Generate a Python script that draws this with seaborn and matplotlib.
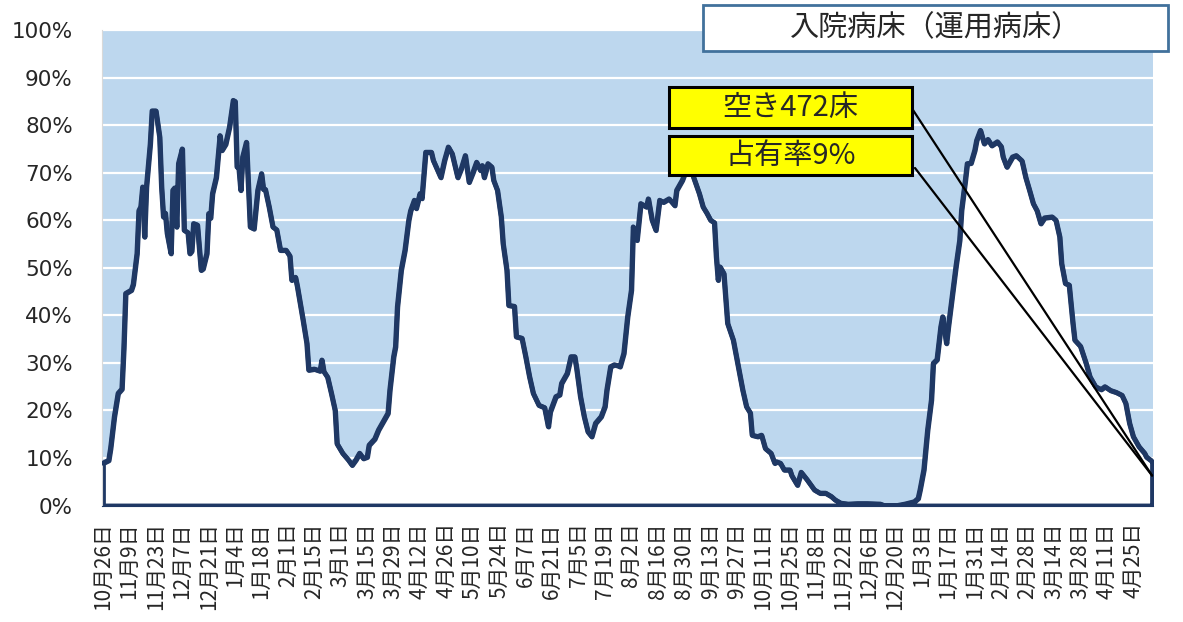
import matplotlib
matplotlib.use("Agg")
import matplotlib.pyplot as plt
import matplotlib.patches as mpatches
import seaborn as sns

# day offset from 10/26, occupancy (%)
days = [0, 3, 4, 6, 8, 10, 11, 12, 15, 16, 18, 19, 20, 21, 22, 23, 25, 26, 28, 30,
        31, 32, 33, 34, 36, 37, 38, 39, 40, 42, 43, 45, 46, 47, 48, 50, 52, 53, 55, 56,
        57, 58, 60, 62, 63, 65, 67, 69, 70, 71, 72, 73, 74, 76, 78, 80, 82, 84, 85, 86,
        88, 90, 92, 94, 97, 99, 100, 102, 103, 106, 108, 109, 112, 115, 116, 117, 119, 121, 123, 124,
        127, 130, 132, 134, 136, 138, 140, 141, 144, 146, 148, 151, 152, 154, 155, 156, 158, 160, 162, 163,
        165, 166, 168, 169, 171, 174, 175, 179, 181, 183, 185, 188, 190, 192, 194, 196, 198, 200, 201, 202,
        204, 206, 207, 209, 211, 212, 214, 215, 218, 219, 222, 224, 226, 228, 231, 234, 236, 237, 240, 242,
        243, 246, 248, 250, 251, 253, 255, 257, 259, 261, 264, 266, 267, 269, 271, 273, 274, 276, 278, 280,
        281, 283, 285, 288, 289, 291, 293, 295, 297, 300, 303, 304, 307, 309, 311, 313, 316, 318, 320, 322,
        324, 325, 326, 327, 329, 331, 334, 336, 339, 341, 343, 344, 347, 349, 351, 354, 356, 357, 359, 361,
        364, 365, 368, 370, 373, 377, 380, 383, 386, 388, 391, 395, 400, 405, 412, 414, 421, 425, 430, 432,
        433, 435, 437, 439, 440, 442, 444, 445, 447, 448, 450, 452, 454, 455, 457, 458, 460, 462, 463, 465,
        467, 469, 471, 474, 476, 477, 479, 482, 484, 487, 489, 491, 493, 495, 497, 499, 503, 505, 507, 508,
        510, 512, 514, 515, 518, 521, 523, 526, 529, 531, 534, 537, 540, 542, 544, 546, 549, 552, 553, 555,
        556]
occupancy = [8.9, 9.5, 12.0, 18.7, 23.6, 24.5, 33.0, 44.6, 45.3, 46.5, 53.0, 62.0, 62.8, 67.0, 56.5, 67.0, 76.0, 83.0, 83.0, 77.5,
             67.0, 60.7, 61.5, 57.2, 53.0, 66.3, 66.8, 58.6, 71.9, 75.0, 57.9, 57.4, 53.0, 53.5, 59.3, 59.0, 49.5, 49.8, 53.0, 61.4,
             60.5, 65.6, 69.0, 77.8, 74.7, 76.0, 79.6, 85.2, 85.0, 71.2, 71.0, 66.3, 73.3, 76.4, 58.6, 58.2, 66.3, 69.8, 66.5, 66.5,
             62.8, 58.6, 58.0, 53.7, 53.7, 52.5, 47.4, 48.0, 46.0, 39.0, 34.1, 28.5, 28.7, 28.3, 30.6, 28.2, 27.0, 23.6, 20.0, 13.0,
             11.0, 9.6, 8.5, 9.6, 11.0, 9.9, 10.2, 12.7, 14.0, 15.9, 17.3, 19.4, 24.3, 31.3, 33.4, 41.8, 49.5, 53.7, 60.0, 62.0,
             64.2, 62.5, 65.6, 64.6, 74.3, 74.3, 72.6, 69.0, 72.6, 75.4, 74.0, 69.0, 71.0, 73.6, 68.0, 70.0, 72.2, 70.5, 71.5, 69.0,
             71.9, 71.2, 68.4, 66.3, 60.7, 55.1, 49.5, 42.1, 41.9, 35.5, 35.2, 31.3, 27.1, 23.6, 21.1, 20.6, 16.6, 19.7, 22.9, 23.3,
             25.7, 27.8, 31.3, 31.3, 28.8, 22.9, 18.7, 15.5, 14.5, 17.3, 18.7, 20.8, 24.3, 29.2, 29.6, 29.4, 29.2, 32.0, 39.7, 45.3,
             58.6, 55.8, 63.5, 62.8, 64.5, 60.0, 57.9, 64.2, 63.8, 64.5, 63.1, 66.3, 68.4, 70.5, 72.0, 69.0, 65.6, 62.8, 61.5, 60.0,
             59.5, 52.3, 47.4, 50.2, 48.8, 38.3, 34.8, 30.6, 24.3, 20.8, 19.5, 14.8, 14.5, 14.8, 12.0, 11.0, 8.9, 9.2, 8.9, 7.5,
             7.5, 6.3, 4.3, 7.0, 5.5, 3.3, 2.6, 2.6, 1.9, 1.2, 0.5, 0.3, 0.4, 0.4, 0.3, 0.0, 0.0, 0.3, 0.8, 1.5,
             3.3, 7.5, 15.9, 22.2, 29.9, 30.7, 37.6, 39.7, 34.1, 37.6, 43.9, 50.2, 55.8, 62.1, 68.4, 71.9, 72.0, 74.7, 76.8, 78.9,
             76.1, 77.0, 75.7, 76.5, 75.5, 73.3, 71.2, 73.3, 73.6, 72.5, 69.0, 66.3, 63.5, 62.0, 59.3, 60.5, 60.7, 60.0, 56.5, 50.9,
             46.7, 46.4, 38.3, 34.8, 33.5, 29.9, 27.1, 25.0, 24.4, 25.0, 24.2, 23.8, 23.2, 21.5, 17.3, 14.5, 12.4, 11.0, 10.2, 9.6,
             9.3]

tick_days = list(range(0, 547, 14))
tick_labels = ["10月26日", "11月9日", "11月23日", "12月7日", "12月21日", "1月4日", "1月18日", "2月1日",
               "2月15日", "3月1日", "3月15日", "3月29日", "4月12日", "4月26日", "5月10日", "5月24日",
               "6月7日", "6月21日", "7月5日", "7月19日", "8月2日", "8月16日", "8月30日", "9月13日",
               "9月27日", "10月11日", "10月25日", "11月8日", "11月22日", "12月6日", "12月20日", "1月3日",
               "1月17日", "1月31日", "2月14日", "2月28日", "3月14日", "3月28日", "4月11日", "4月25日"]

title_text = "入院病床（運用病床）"
free_beds_text = "空き472床"
rate_text = "占有率9%"

navy = "#1F3864"
sky = "#BDD7EE"

sns.set_style("white")
plt.rcParams['font.family'] = ['Noto Sans CJK JP', 'DejaVu Sans']

W, H = 1183, 622
fig = plt.figure(figsize=(W / 100, H / 100), dpi=100)
ax = fig.add_axes([102 / W, 1 - 505.5 / H, (1153 - 102) / W, (505.5 - 30) / H])
ax.set_facecolor(sky)

# white area under the curve, outlined like the excel area series
ax.fill_between(days, occupancy, 0, facecolor="white", edgecolor=navy,
                linewidth=3.5, joinstyle="round", zorder=2)
sns.lineplot(x=days, y=occupancy, color=navy, linewidth=3.5, ax=ax, zorder=3)

ax.set_xlim(-0.5, 556.5)
ax.set_ylim(0, 100)
ax.set_yticks(range(0, 101, 10))
ax.set_yticklabels([f"{v}%" for v in range(0, 101, 10)], family="DejaVu Sans", fontsize=15.5)
ax.set_xticks(tick_days)
ax.set_xticklabels(tick_labels, rotation=90, fontsize=15, family="Noto Sans CJK JP")
ax.tick_params(axis="y", length=0, pad=21)
ax.tick_params(axis="x", direction="in", length=5, width=1.2, color="#BFBFBF", pad=12)
ax.set_xlabel("")
ax.set_ylabel("")
ax.grid(axis="y", color="white", linewidth=1.6)
ax.grid(axis="x", visible=False)
for side in ["top", "right"]:
    ax.spines[side].set_visible(False)
ax.spines["left"].set_color("#D9D9D9")
ax.spines["bottom"].set_color(navy)

# title box
fig.add_artist(mpatches.Rectangle((703 / W, 1 - 51 / H), (1168 - 703) / W, 46 / H,
                                  transform=fig.transFigure, facecolor="white",
                                  edgecolor="#41719C", linewidth=2, zorder=5))
fig.text(935.5 / W, 1 - 28 / H, title_text, ha="center", va="center", fontsize=21, zorder=6)

# leader lines to the last point
end_pt = (556, 6.3)
for sx, sy in [(913, 110), (915, 168)]:
    ax.annotate("", xy=end_pt, xycoords="data", xytext=(sx / W, 1 - sy / H),
                textcoords="figure fraction",
                arrowprops=dict(arrowstyle="-", color="black", lw=1.6, shrinkA=0, shrinkB=0),
                zorder=4, annotation_clip=False)

# yellow callouts
for (y0, y1), txt in [((87, 128), free_beds_text), ((136, 175), rate_text)]:
    fig.add_artist(mpatches.Rectangle((669 / W, 1 - y1 / H), (912 - 669) / W, (y1 - y0) / H,
                                      transform=fig.transFigure, facecolor="#FFFF00",
                                      edgecolor="black", linewidth=2.2, zorder=5))
    fig.text(790.5 / W, 1 - (y0 + y1) / 2 / H, txt, ha="center", va="center",
             fontsize=21, zorder=6)

fig.savefig("out.png", dpi=100)
